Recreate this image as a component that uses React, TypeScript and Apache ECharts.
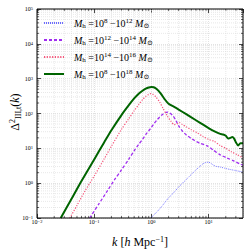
import React, { useEffect, useRef } from "react";
import * as echarts from "echarts";

// ---- data ----
const seriesNames = ["m8_12", "m12_14", "m14_16", "m8_18"];
const legendLo = ["8", "12", "14", "8"];
const legendHi = ["12", "14", "16", "18"];

const blueK = [0.97, 1.2, 1.5, 2.0, 2.5, 3, 3.5, 4.5, 6, 7, 8, 9, 10, 11, 12.5, 14, 16, 19, 23, 28, 34, 40];
const blueV = [0.1, 0.14, 0.21, 0.38, 0.55, 0.78, 1.0, 1.5, 2.4, 3.0, 3.6, 3.95, 4.0, 3.7, 3.2, 3.0, 2.9, 2.7, 2.5, 2.35, 2.2, 2.1];

const purpleK = [0.0835, 0.12, 0.17, 0.23, 0.3, 0.4, 0.5, 0.6, 0.7, 0.8, 0.9, 1.0, 1.1, 1.25, 1.4, 1.6, 1.8, 1.95, 2.1, 2.4, 2.7, 3.0, 3.5, 4.1, 5, 5.6, 7, 9.3, 12, 16, 21, 28, 35, 40];
const purpleV = [0.1, 0.25, 0.6, 1.3, 2.4, 4.8, 8.5, 13, 18, 25, 32, 40, 50, 65, 80, 97, 108, 110, 103, 85, 62, 44, 31, 24, 19, 17, 14, 12, 9, 6.5, 5.3, 4.3, 3.6, 3.3];

const redK = [0.0375, 0.05, 0.07, 0.1, 0.15, 0.2, 0.3, 0.4, 0.5, 0.6, 0.7, 0.8, 0.9, 0.97, 1.05, 1.2, 1.4, 1.6, 1.9, 2.2, 2.5, 2.8, 3.1, 3.5, 4, 5, 6.3, 8, 10, 12.5, 16, 20, 25, 32, 40];
const redV = [0.1, 0.23, 0.62, 1.6, 5, 11.5, 35, 70, 120, 180, 250, 310, 355, 370, 360, 300, 210, 140, 85, 60, 48, 50, 55, 48, 42, 34, 28, 22, 18, 16, 12, 10, 8, 6.5, 5.3];

const greenK = [0.026, 0.04, 0.06, 0.1, 0.15, 0.2, 0.3, 0.4, 0.5, 0.6, 0.7, 0.8, 0.9, 1.0, 1.1, 1.25, 1.45, 1.7, 2.0, 2.5, 3, 4, 5, 7, 10, 13, 16, 18, 20, 22, 24, 26, 28, 30, 33, 36, 40];
const greenV = [0.1, 0.35, 1.15, 4.8, 15, 33, 90, 170, 270, 370, 450, 520, 560, 575, 565, 500, 380, 260, 190, 155, 130, 97, 77, 55, 38, 30, 26, 25, 23, 19, 20, 21, 19, 15, 12, 14, 14];

const xMin = 0.01;
const xMax = 40;
const yMin = 0.1;
const yMax = 1e5;

const xMinor = [0.02, 0.03, 0.04, 0.05, 0.06, 0.07, 0.08, 0.09, 0.2, 0.3, 0.4, 0.5, 0.6, 0.7, 0.8, 0.9, 2, 3, 4, 5, 6, 7, 8, 9, 20, 30];
const yDecades = [0.1, 1, 10, 100, 1000, 10000];
const yMinorMult = [2, 3, 4, 5, 6, 7, 8, 9];

const pair = (ks: number[], vs: number[]) => ks.map((k, i) => [k, vs[i]]);

const SERIF = "Liberation Serif, DejaVu Serif, serif";

export default function App() {
  const ref = useRef<HTMLDivElement>(null);
  useEffect(() => {
    if (!ref.current) return;
    const chart = echarts.init(ref.current, null, { renderer: "svg" });

    const yMinor: number[] = [];
    yDecades.forEach((d) => yMinorMult.forEach((m) => yMinor.push(+(d * m).toPrecision(3))));

    const expFmt = (v: number) => {
      const e = Math.log10(v);
      const r = Math.round(e);
      if (Math.abs(e - r) > 1e-6) return "";
      return "10{s|" + (r < 0 ? "−" + -r : "" + r) + "}";
    };
    const tickRich = {
      s: { fontSize: 4.5, verticalAlign: "top", fontFamily: SERIF, color: "#000" },
    };

    const minorXSeries = {
      type: "custom",
      silent: true,
      z: 1,
      data: xMinor.map((v) => [v, 1]),
      encode: { x: 0, y: 1 },
      renderItem: (params: any, api: any) => {
        const p = api.coord([api.value(0), 1]);
        const cs = params.coordSys;
        return {
          type: "group",
          children: [
            { type: "line", shape: { x1: p[0], y1: cs.y, x2: p[0], y2: cs.y + cs.height }, style: { stroke: "#d8d8d8", lineWidth: 0.6, lineDash: [1, 1] } },
            { type: "line", shape: { x1: p[0], y1: cs.y + cs.height, x2: p[0], y2: cs.y + cs.height - 2 }, style: { stroke: "#000", lineWidth: 0.6 } },
            { type: "line", shape: { x1: p[0], y1: cs.y, x2: p[0], y2: cs.y + 2 }, style: { stroke: "#000", lineWidth: 0.6 } },
          ],
        };
      },
    };
    const minorYSeries = {
      type: "custom",
      silent: true,
      z: 1,
      data: yMinor.map((v) => [1, v]),
      encode: { x: 0, y: 1 },
      renderItem: (params: any, api: any) => {
        const p = api.coord([1, api.value(1)]);
        const cs = params.coordSys;
        return {
          type: "group",
          children: [
            { type: "line", shape: { x1: cs.x, y1: p[1], x2: cs.x + cs.width, y2: p[1] }, style: { stroke: "#d8d8d8", lineWidth: 0.6, lineDash: [1, 1] } },
            { type: "line", shape: { x1: cs.x, y1: p[1], x2: cs.x + 2, y2: p[1] }, style: { stroke: "#000", lineWidth: 0.6 } },
            { type: "line", shape: { x1: cs.x + cs.width, y1: p[1], x2: cs.x + cs.width - 2, y2: p[1] }, style: { stroke: "#000", lineWidth: 0.6 } },
          ],
        };
      },
    };

    const lineStyles = [
      { color: "#6b6bff", width: 0.9, type: [1, 1] },
      { color: "#a02cf0", width: 1.3, type: [3, 2] },
      { color: "#f5557a", width: 1.2, type: [1.2, 1.5] },
      { color: "#006400", width: 2, type: "solid" },
    ];
    const datas = [pair(blueK, blueV), pair(purpleK, purpleV), pair(redK, redV), pair(greenK, greenV)];

    const lineSeries = seriesNames.map((name, i) => ({
      name,
      type: "line",
      data: datas[i],
      symbol: "none",
      showSymbol: false,
      smooth: 0.25,
      clip: true,
      z: 3,
      color: lineStyles[i].color,
      lineStyle: { color: lineStyles[i].color, width: lineStyles[i].width, type: lineStyles[i].type as any },
    }));

    const legendRich = {
      i: { fontFamily: SERIF, fontStyle: "italic", fontSize: 10, color: "#000", lineHeight: 12 },
      n: { fontFamily: SERIF, fontSize: 10, color: "#000", lineHeight: 12 },
      sup: { fontFamily: SERIF, fontSize: 7, color: "#000", verticalAlign: "top" },
      sub: { fontFamily: SERIF, fontSize: 7, color: "#000", verticalAlign: "bottom" },
    };

    const baseAxis = {
      type: "log",
      logBase: 10,
      axisLine: { show: false },
      axisTick: { show: true, inside: true, length: 4, lineStyle: { color: "#000", width: 0.7 } },
      splitLine: { show: false },
    };

    chart.setOption({
      animation: false,
      backgroundColor: "#fff",
      grid: {
        left: 37, right: 6, top: 9, bottom: 31,
        containLabel: false, outerBoundsMode: "none",
        show: true, borderColor: "#000", borderWidth: 1, backgroundColor: "transparent", z: 5,
      },
      legend: {
        data: seriesNames,
        orient: "vertical",
        left: 43,
        top: 17,
        padding: 0,
        itemWidth: 20,
        itemHeight: 10,
        itemGap: 5,
        selectedMode: false,
        itemStyle: { opacity: 0 },
        formatter: (name: string) => {
          const i = seriesNames.indexOf(name);
          return "{n|  }{i|M}{sub|h}{n| =10}{sup|" + legendLo[i] + "}{n| −10}{sup|" + legendHi[i] + "}{i| M}{sub|⊙}";
        },
        textStyle: { rich: legendRich, fontFamily: SERIF, fontSize: 10 },
      },
      graphic: [
        {
          type: "text",
          x: 15,
          y: 112,
          rotation: Math.PI / 2,
          silent: true,
          style: {
            text: "Δ{s|2}{b|III,t}({i|k})",
            align: "center",
            verticalAlign: "middle",
            fontFamily: SERIF,
            fontSize: 12,
            fill: "#000",
            rich: {
              i: { fontFamily: SERIF, fontStyle: "italic", fontSize: 12, fill: "#000", lineHeight: 14 },
              s: { fontFamily: SERIF, fontSize: 8, fill: "#000", verticalAlign: "top" },
              b: { fontFamily: SERIF, fontSize: 8, fill: "#000", verticalAlign: "bottom" },
            },
          },
        },
      ],
      xAxis: [
        {
          ...baseAxis,
          min: xMin,
          max: xMax,
          position: "bottom",
          splitLine: { show: true, lineStyle: { color: "#cfcfcf", width: 0.6, type: [1, 1] } },
          axisLabel: { show: true, formatter: expFmt, fontSize: 6, fontFamily: SERIF, color: "#000", margin: 1, rich: tickRich, showMaxLabel: false },
          name: "{i|k} [{i|h} Mpc{s|−1}]",
          nameLocation: "middle",
          nameGap: 17,
          nameTextStyle: {
            fontFamily: SERIF,
            fontSize: 12,
            color: "#000",
            rich: {
              i: { fontFamily: SERIF, fontStyle: "italic", fontSize: 12, color: "#000", lineHeight: 14 },
              s: { fontFamily: SERIF, fontSize: 8, color: "#000", verticalAlign: "top" },
            },
          },
        },
        {
          ...baseAxis,
          min: xMin,
          max: xMax,
          position: "top",
          axisLabel: { show: false },
        },
      ],
      yAxis: [
        {
          ...baseAxis,
          min: yMin,
          max: yMax,
          position: "left",
          splitLine: { show: true, lineStyle: { color: "#cfcfcf", width: 0.6, type: [1, 1] } },
          axisLabel: { show: true, formatter: expFmt, fontSize: 6, fontFamily: SERIF, color: "#000", margin: 4, rich: tickRich },
        },
        {
          ...baseAxis,
          min: yMin,
          max: yMax,
          position: "right",
          axisLabel: { show: false },
        },
      ],
      series: [minorXSeries, minorYSeries, ...lineSeries],
    });
    return () => chart.dispose();
  }, []);
  return <div ref={ref} style={{ width: 249, height: 249, position: "absolute", left: 0, top: 0 }} />;
}
